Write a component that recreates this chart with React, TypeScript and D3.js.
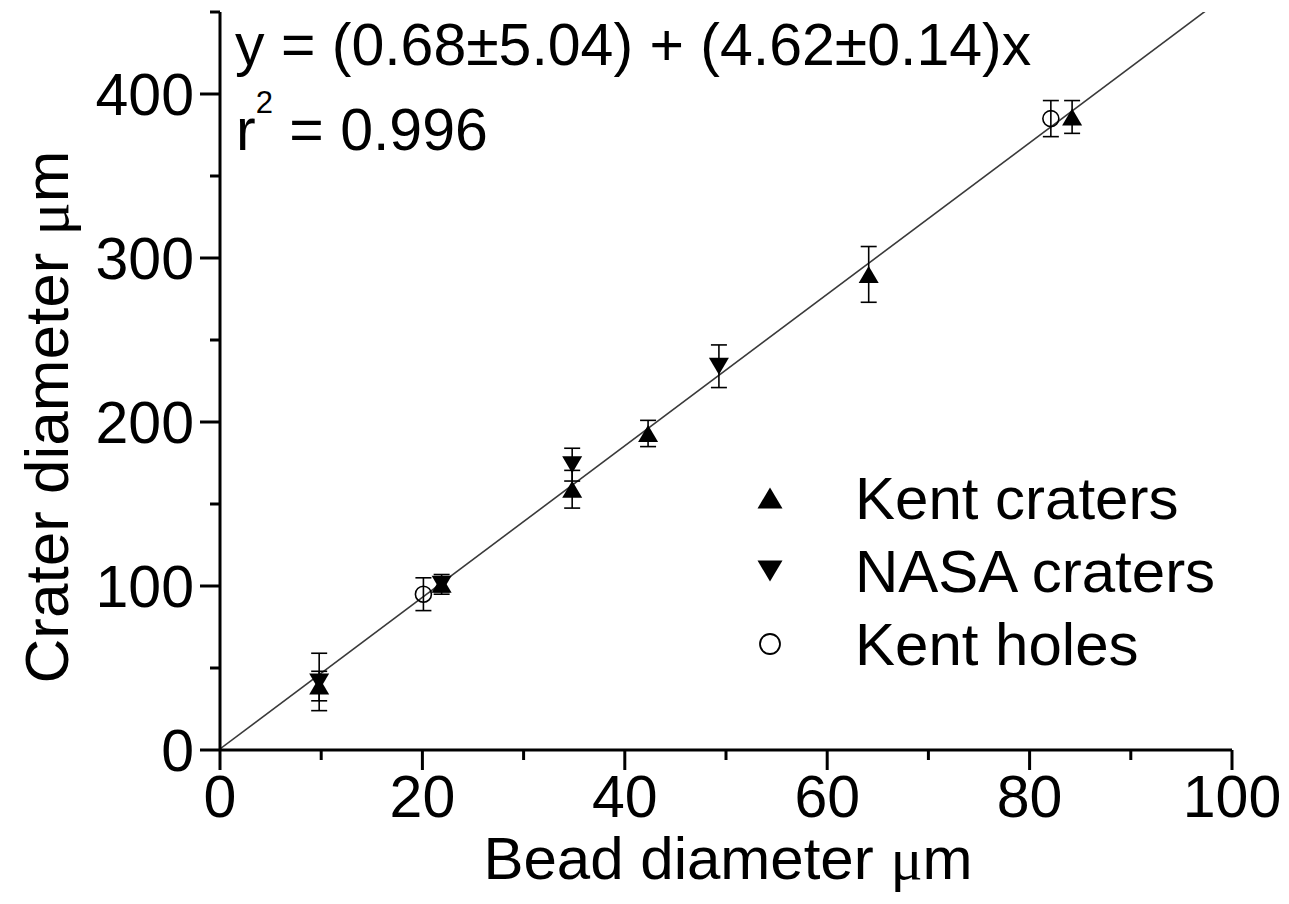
import React, { useEffect, useRef } from 'react';
import * as d3 from 'd3';

// Kent craters (up triangles)
const kentCraterX = [9.8, 21.9, 34.8, 42.3, 64.1, 84.2];
const kentCraterY = [39, 101, 159, 193, 290, 386];
const kentCraterErr = [9, 6, 11.5, 8, 17, 10];

// NASA craters (down triangles)
const nasaCraterX = [9.8, 21.9, 34.8, 49.3];
const nasaCraterY = [41.5, 101, 174, 234];
const nasaCraterErr = [17.5, 4.5, 10, 13];

// Kent holes (open circles)
const kentHoleX = [20.1, 82.1];
const kentHoleY = [95, 385];
const kentHoleErr = [10, 11];

// linear fit
const fitIntercept = 0.68;
const fitSlope = 4.62;

const xMajor = [0, 20, 40, 60, 80, 100];
const xMinor = [10, 30, 50, 70, 90];
const yMajor = [0, 100, 200, 300, 400];
const yMinor = [50, 150, 250, 350, 450];

const legendItems = [
  { label: 'Kent craters', kind: 'up' },
  { label: 'NASA craters', kind: 'down' },
  { label: 'Kent holes', kind: 'circle' },
];

const W = 1289;
const H = 904;
const FONT = '"Liberation Sans", Arial, sans-serif';

export default function App() {
  const ref = useRef<SVGSVGElement | null>(null);

  useEffect(() => {
    if (!ref.current) return;
    const svg = d3.select(ref.current);
    svg.selectAll('*').remove();

    const left = 220, right = 1232, top = 12, bottom = 750;
    const x = d3.scaleLinear().domain([0, 100]).range([left, right]);
    const y = d3.scaleLinear().domain([0, 450]).range([bottom, top]);

    svg.append('rect').attr('width', W).attr('height', H).attr('fill', '#fff');

    const defs = svg.append('defs');
    defs.append('clipPath').attr('id', 'plotclip')
      .append('rect').attr('x', left).attr('y', top)
      .attr('width', right - left).attr('height', bottom - top);

    // fit line
    const fitXs = [0, 100];
    svg.append('path')
      .attr('clip-path', 'url(#plotclip)')
      .datum(fitXs)
      .attr('fill', 'none')
      .attr('stroke', '#3a3a3a')
      .attr('stroke-width', 1.6)
      .attr('d', d3.line<number>().x(d => x(d)).y(d => y(fitIntercept + fitSlope * d)));

    // error bars
    const drawErr = (xs: number[], ys: number[], es: number[]) => {
      xs.forEach((xv, i) => {
        const cx = x(xv);
        const y1 = y(ys[i] + es[i]);
        const y2 = y(ys[i] - es[i]);
        const g = svg.append('g').attr('stroke', '#000').attr('stroke-width', 1.6);
        g.append('line').attr('x1', cx).attr('x2', cx).attr('y1', y1).attr('y2', y2);
        g.append('line').attr('x1', cx - 8).attr('x2', cx + 8).attr('y1', y1).attr('y2', y1);
        g.append('line').attr('x1', cx - 8).attr('x2', cx + 8).attr('y1', y2).attr('y2', y2);
      });
    };
    drawErr(kentHoleX, kentHoleY, kentHoleErr);
    drawErr(nasaCraterX, nasaCraterY, nasaCraterErr);
    drawErr(kentCraterX, kentCraterY, kentCraterErr);

    const triPath = (w: number, h: number, down: boolean) => {
      const p = d3.path();
      const s = down ? -1 : 1;
      p.moveTo(0, -s * h / 2);
      p.lineTo(w / 2, s * h / 2);
      p.lineTo(-w / 2, s * h / 2);
      p.closePath();
      return p.toString();
    };

    // markers
    nasaCraterX.forEach((xv, i) => {
      svg.append('path').attr('d', triPath(20, 17, true))
        .attr('transform', `translate(${x(xv)},${y(nasaCraterY[i])})`)
        .attr('fill', '#000');
    });
    kentCraterX.forEach((xv, i) => {
      svg.append('path').attr('d', triPath(20, 17, false))
        .attr('transform', `translate(${x(xv)},${y(kentCraterY[i])})`)
        .attr('fill', '#000');
    });
    kentHoleX.forEach((xv, i) => {
      svg.append('circle').attr('cx', x(xv)).attr('cy', y(kentHoleY[i])).attr('r', 8)
        .attr('fill', 'none').attr('stroke', '#000').attr('stroke-width', 1.6);
    });

    // axes
    const axG = svg.append('g').attr('stroke', '#000').attr('stroke-width', 3);
    axG.append('line').attr('x1', left).attr('x2', right).attr('y1', bottom).attr('y2', bottom);
    axG.append('line').attr('x1', left).attr('x2', left).attr('y1', top).attr('y2', bottom);
    xMajor.forEach(v => axG.append('line').attr('x1', x(v)).attr('x2', x(v)).attr('y1', bottom).attr('y2', bottom + 20));
    xMinor.forEach(v => axG.append('line').attr('x1', x(v)).attr('x2', x(v)).attr('y1', bottom).attr('y2', bottom + 10));
    yMajor.forEach(v => axG.append('line').attr('x1', left - 20).attr('x2', left).attr('y1', y(v)).attr('y2', y(v)));
    yMinor.forEach(v => axG.append('line').attr('x1', left - 10).attr('x2', left).attr('y1', y(v)).attr('y2', y(v)));

    const txt = svg.append('g').attr('font-family', FONT).attr('fill', '#000');
    xMajor.forEach(v => txt.append('text').attr('x', x(v)).attr('y', 817)
      .attr('text-anchor', 'middle').attr('font-size', 59).text(String(v)));
    yMajor.forEach(v => txt.append('text').attr('x', 194).attr('y', y(v) + 21)
      .attr('text-anchor', 'end').attr('font-size', 59).text(String(v)));

    // axis titles
    const xt = txt.append('text').attr('x', (left + right) / 2 + 2).attr('y', 879)
      .attr('text-anchor', 'middle').attr('font-size', 60);
    xt.append('tspan').text('Bead diameter ');
    xt.append('tspan').attr('font-family', '"Liberation Serif", serif').text('\u03bc');
    xt.append('tspan').text('m');

    const yt = txt.append('text').attr('transform', `translate(68,${(top + bottom) / 2 + 36}) rotate(-90)`)
      .attr('text-anchor', 'middle').attr('font-size', 62);
    yt.append('tspan').text('Crater diameter ');
    yt.append('tspan').attr('font-family', '"Liberation Serif", serif').text('\u03bc');
    yt.append('tspan').text('m');

    // equation
    txt.append('text').attr('x', 235).attr('y', 65).attr('font-size', 59)
      .text(`y = (${fitIntercept.toFixed(2)}\u00b15.04) + (${fitSlope.toFixed(2)}\u00b10.14)x`);
    const r2 = txt.append('text').attr('x', 236).attr('y', 150).attr('font-size', 59);
    r2.append('tspan').text('r');
    r2.append('tspan').attr('font-size', 31).attr('dy', -37).text('2');
    r2.append('tspan').attr('dy', 37).text(' = 0.996');

    // legend
    legendItems.forEach((it, i) => {
      const cy = 498 + i * 73;
      if (it.kind === 'circle') {
        svg.append('circle').attr('cx', 770).attr('cy', cy).attr('r', 10)
          .attr('fill', 'none').attr('stroke', '#000').attr('stroke-width', 1.8);
      } else {
        svg.append('path').attr('d', triPath(25, 21, it.kind === 'down'))
          .attr('transform', `translate(770,${cy})`).attr('fill', '#000');
      }
      txt.append('text').attr('x', 855).attr('y', cy + 21).attr('font-size', 60).text(it.label);
    });
  }, []);

  return (
    <svg ref={ref} width={W} height={H}
      style={{ position: 'absolute', left: 0, top: 0, display: 'block' }} />
  );
}
